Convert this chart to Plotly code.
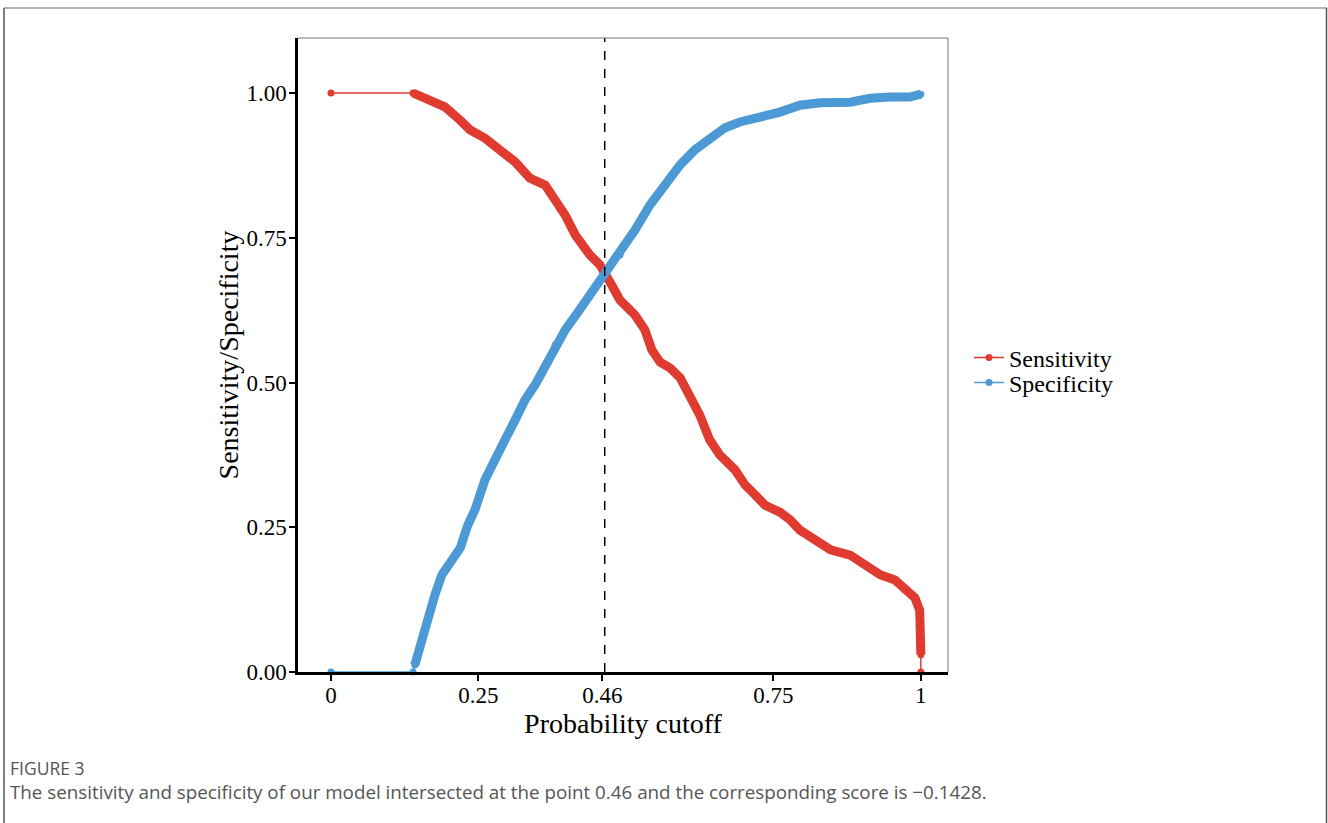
import plotly.graph_objects as go

# ---- data ----
sens_x = [0.0, 0.139, 0.168, 0.193, 0.219, 0.236, 0.261, 0.286, 0.312, 0.337, 0.363, 0.380,
          0.397, 0.414, 0.439, 0.456, 0.464, 0.476, 0.490, 0.515, 0.532, 0.544, 0.558, 0.575,
          0.592, 0.608, 0.625, 0.642, 0.659, 0.685, 0.702, 0.719, 0.736, 0.761, 0.778, 0.795,
          0.820, 0.847, 0.880, 0.905, 0.931, 0.956, 0.973, 0.990, 0.998, 1.0, 1.0]
sens_y = [1.0, 1.0, 0.988, 0.976, 0.953, 0.936, 0.922, 0.902, 0.881, 0.853, 0.841, 0.815,
          0.789, 0.755, 0.720, 0.703, 0.691, 0.668, 0.642, 0.617, 0.591, 0.556, 0.535, 0.525,
          0.508, 0.478, 0.444, 0.401, 0.375, 0.349, 0.323, 0.306, 0.288, 0.276, 0.263, 0.245,
          0.228, 0.211, 0.202, 0.185, 0.168, 0.159, 0.142, 0.128, 0.107, 0.03, 0.0]

spec_x = [0.0, 0.139, 0.142, 0.151, 0.164, 0.176, 0.188, 0.202, 0.219, 0.232, 0.244, 0.261,
          0.278, 0.295, 0.312, 0.329, 0.346, 0.363, 0.380, 0.397, 0.419, 0.439, 0.464, 0.490,
          0.515, 0.541, 0.566, 0.592, 0.617, 0.642, 0.668, 0.693, 0.727, 0.761, 0.795, 0.829,
          0.880, 0.914, 0.947, 0.981, 1.0]
spec_y = [0.0, 0.0, 0.012, 0.047, 0.090, 0.133, 0.168, 0.190, 0.214, 0.254, 0.280, 0.332,
          0.370, 0.401, 0.435, 0.470, 0.496, 0.530, 0.565, 0.591, 0.622, 0.651, 0.686, 0.720,
          0.763, 0.807, 0.841, 0.876, 0.902, 0.922, 0.940, 0.950, 0.957, 0.967, 0.979, 0.983,
          0.984, 0.991, 0.993, 0.993, 0.998]

cutoff = 0.46
tick_vals = [0, 0.25, 0.46, 0.75, 1]
tick_text = ["0", "0.25", "0.46", "0.75", "1"]
ytick_vals = [0, 0.25, 0.5, 0.75, 1.0]
ytick_text = ["0.00", "0.25", "0.50", "0.75", "1.00"]

RED = "#DF3B30"
BLUE = "#4B9AD5"
SERIF = "Liberation Serif, Times New Roman, serif"

fig = go.Figure()

# thin line + points (legend entries)
fig.add_trace(go.Scatter(x=sens_x, y=sens_y, mode="lines+markers", name="Sensitivity",
                         line=dict(color=RED, width=1.5), marker=dict(color=RED, size=7),
                         cliponaxis=False, legend="legend"))
fig.add_trace(go.Scatter(x=spec_x, y=spec_y, mode="lines+markers", name="Specificity",
                         line=dict(color=BLUE, width=1.5), marker=dict(color=BLUE, size=7),
                         cliponaxis=False, legend="legend2"))
# dense point regions rendered as thick lines
fig.add_trace(go.Scatter(x=sens_x[1:-1], y=sens_y[1:-1], mode="lines", showlegend=False,
                         line=dict(color=RED, width=9), hoverinfo="skip"))
fig.add_trace(go.Scatter(x=spec_x[2:], y=spec_y[2:], mode="lines", showlegend=False,
                         line=dict(color=BLUE, width=9), hoverinfo="skip"))

W, H = 1328, 823
L, R, T, B = 298, 948, 38, 672


def px(xp):
    return (xp - L) / (R - L)


def py(yp):
    return (B - yp) / (B - T)


shapes = [
    # dashed cutoff line
    dict(type="line", xref="x", yref="paper", x0=cutoff + 0.004, x1=cutoff + 0.004, y0=0, y1=1,
         line=dict(color="black", width=1.5, dash="dash")),
    # panel border top/right (thin grey)
    dict(type="line", xref="paper", yref="paper", x0=0, x1=1, y0=1, y1=1,
         line=dict(color="#777777", width=1)),
    dict(type="line", xref="paper", yref="paper", x0=1, x1=1, y0=0, y1=1,
         line=dict(color="#777777", width=1)),
    # outer figure frame
    dict(type="line", xref="paper", yref="paper", x0=px(4), x1=px(1327), y0=py(8), y1=py(8),
         line=dict(color="#b5b5b5", width=2)),
    dict(type="line", xref="paper", yref="paper", x0=px(4), x1=px(4), y0=py(8), y1=py(823),
         line=dict(color="#555555", width=1.5)),
    dict(type="line", xref="paper", yref="paper", x0=px(1326.5), x1=px(1326.5), y0=py(8), y1=py(823),
         line=dict(color="#555555", width=1.5)),
]

annotations = [
    dict(text="FIGURE 3", xref="paper", yref="paper", x=px(8), y=py(768), xanchor="left",
         yanchor="middle", showarrow=False, font=dict(family="Open Sans", size=17.5, color="#555555")),
    dict(text="The sensitivity and specificity of our model intersected at the point 0.46 and the corresponding score is \u22120.1428.",
         xref="paper", yref="paper", x=px(8), y=py(792), xanchor="left", yanchor="middle",
         showarrow=False, font=dict(family="Open Sans", size=18.8, color="#555555")),
]

leg_common = dict(xanchor="left", yanchor="middle", bgcolor="rgba(0,0,0,0)",
                  font=dict(family=SERIF, size=24, color="black"), itemwidth=30)

fig.update_layout(
    width=W, height=H,
    margin=dict(l=L, r=W - R, t=T, b=H - B, pad=0),
    paper_bgcolor="white", plot_bgcolor="white",
    font=dict(family=SERIF, color="black"),
    shapes=shapes, annotations=annotations,
    legend=dict(x=px(969), y=py(358), **leg_common),
    legend2=dict(x=px(969), y=py(383), **leg_common),
    xaxis=dict(range=[-0.056, 1.046], tickvals=tick_vals, ticktext=tick_text,
               showgrid=False, zeroline=False, showline=True, linecolor="black", linewidth=2.5,
               ticks="outside", ticklen=6, tickwidth=1.5, tickcolor="black",
               ticklabelstandoff=-5,
               tickfont=dict(family=SERIF, size=23, color="black"),
               title=dict(text="Probability cutoff", font=dict(family=SERIF, size=28, color="black"),
                          standoff=0)),
    yaxis=dict(range=[0, 1.095], tickvals=ytick_vals, ticktext=ytick_text,
               showgrid=False, zeroline=False, showline=True, linecolor="black", linewidth=2.5,
               ticks="outside", ticklen=6, tickwidth=1.5, tickcolor="black",
               ticklabelstandoff=-2,
               tickfont=dict(family=SERIF, size=23, color="black"),
               title=dict(text="Sensitivity/Specificity", font=dict(family=SERIF, size=28, color="black"),
                          standoff=0)),
)

fig.write_html("out.html", config={"displayModeBar": False},
               post_script="document.body.style.margin='0px';")
